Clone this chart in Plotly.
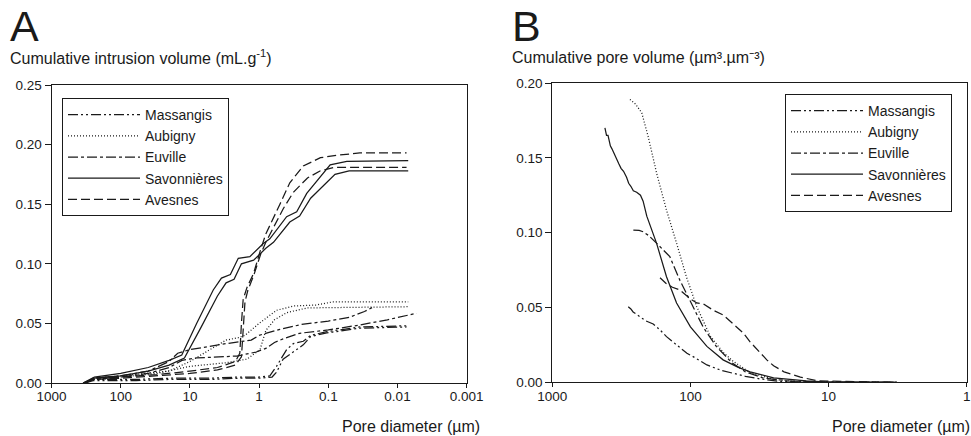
import plotly.graph_objects as go

# ---------------- Panel A : cumulative intrusion volume (mL/g) vs pore diameter (um)
massangis_a1_d = [330, 250, 150, 60, 20, 5, 2, 1.0, 0.7, 0.56, 0.40, 0.32, 0.23, 0.18, 0.105, 0.035, 0.0074]
massangis_a1_v = [0, 0.003, 0.003, 0.003, 0.004, 0.004, 0.005, 0.005, 0.006, 0.014, 0.028, 0.033, 0.035, 0.040, 0.043, 0.047, 0.048]
massangis_a2_d = [330, 250, 150, 60, 20, 5, 2, 1.0, 0.65, 0.56, 0.45, 0.32, 0.23, 0.18, 0.105, 0.035, 0.0074]
massangis_a2_v = [0, 0.002, 0.002, 0.002, 0.003, 0.003, 0.004, 0.004, 0.005, 0.009, 0.020, 0.026, 0.032, 0.039, 0.042, 0.046, 0.047]

aubigny_a1_d = [320, 250, 100, 40, 20, 10, 5, 3, 2, 1.6, 1.0, 0.56, 0.32, 0.15, 0.087, 0.007]
aubigny_a1_v = [0, 0.004, 0.006, 0.008, 0.010, 0.018, 0.028, 0.036, 0.038, 0.040, 0.050, 0.061, 0.0646, 0.0654, 0.068, 0.068]
aubigny_a2_d = [320, 250, 100, 30, 10, 3, 1.5, 1.05, 0.97, 0.8, 0.6, 0.4, 0.2, 0.007]
aubigny_a2_v = [0, 0.003, 0.005, 0.008, 0.014, 0.017, 0.020, 0.026, 0.028, 0.044, 0.053, 0.059, 0.063, 0.064]

euville_a1_d = [330, 250, 100, 40, 20, 15, 10, 5, 3, 1.3, 1.0, 0.5, 0.25, 0.1, 0.05, 0.03, 0.022]
euville_a1_v = [0, 0.004, 0.006, 0.010, 0.018, 0.025, 0.028, 0.031, 0.033, 0.036, 0.040, 0.045, 0.049, 0.052, 0.055, 0.060, 0.064]
euville_a2_d = [330, 250, 100, 40, 20, 13, 8, 3, 2.1, 1.1, 0.8, 0.6, 0.45, 0.26, 0.1, 0.035, 0.014, 0.0053]
euville_a2_v = [0, 0.003, 0.005, 0.008, 0.013, 0.019, 0.021, 0.022, 0.0226, 0.026, 0.029, 0.034, 0.037, 0.0417, 0.0445, 0.0487, 0.053, 0.0585]

savonnieres_a1_d = [350, 240, 100, 40, 20, 13.1, 8.0, 4.6, 3.5, 2.6, 2.0, 1.36, 0.87, 0.70, 0.40, 0.286, 0.205, 0.094, 0.054, 0.0070]
savonnieres_a1_v = [0, 0.005, 0.008, 0.013, 0.019, 0.0235, 0.050, 0.078, 0.088, 0.091, 0.1046, 0.106, 0.117, 0.121, 0.1395, 0.1437, 0.159, 0.183, 0.186, 0.1866]
savonnieres_a2_d = [350, 240, 100, 40, 20, 12, 7, 4.0, 3.0, 2.3, 1.8, 1.2, 0.80, 0.62, 0.36, 0.26, 0.18, 0.08, 0.05, 0.0070]
savonnieres_a2_v = [0, 0.004, 0.006, 0.010, 0.015, 0.021, 0.046, 0.073, 0.084, 0.087, 0.100, 0.103, 0.113, 0.118, 0.135, 0.140, 0.155, 0.175, 0.178, 0.178]

avesnes_a1_d = [330, 250, 100, 30, 10, 4, 2.2, 1.9, 1.8, 1.7, 1.5, 1.2, 0.95, 0.8, 0.5, 0.36, 0.23, 0.13, 0.076, 0.035, 0.0074]
avesnes_a1_v = [0, 0.004, 0.005, 0.007, 0.010, 0.013, 0.018, 0.025, 0.050, 0.070, 0.080, 0.092, 0.112, 0.125, 0.150, 0.168, 0.182, 0.189, 0.191, 0.193, 0.193]
avesnes_a2_d = [330, 250, 100, 30, 10, 4, 2.2, 1.8, 1.7, 1.6, 1.45, 1.2, 0.95, 0.8, 0.6, 0.45, 0.32, 0.2, 0.13, 0.08, 0.0074]
avesnes_a2_v = [0, 0.003, 0.004, 0.006, 0.008, 0.011, 0.015, 0.022, 0.045, 0.068, 0.078, 0.090, 0.108, 0.118, 0.132, 0.146, 0.160, 0.172, 0.178, 0.181, 0.181]

# ---------------- Panel B : cumulative pore volume (um3/um3) vs pore diameter (um)
massangis_b_d = [282, 270, 260, 232, 210, 186, 166, 149, 126, 106, 95, 76, 60, 49, 40, 31, 22, 3.2]
massangis_b_v = [0.0505, 0.049, 0.047, 0.0438, 0.041, 0.039, 0.035, 0.0305, 0.025, 0.0194, 0.017, 0.0116, 0.008, 0.006, 0.004, 0.0022, 0.0004, 0]
aubigny_b_d = [274, 250, 225, 202, 176, 149, 126, 107, 90, 72, 58, 49, 37, 25, 16, 10, 3.2]
aubigny_b_v = [0.189, 0.186, 0.180, 0.164, 0.140, 0.115, 0.093, 0.0705, 0.0505, 0.031, 0.020, 0.014, 0.0065, 0.002, 0.0003, 0.0001, 0]
euville_b_d = [259, 235, 220, 200, 176, 141, 119, 101, 81, 65, 50, 40, 30, 20, 12, 3.2]
euville_b_v = [0.1017, 0.1015, 0.1006, 0.098, 0.093, 0.084, 0.068, 0.055, 0.037, 0.024, 0.013, 0.007, 0.003, 0.001, 0.0002, 0]
savonnieres_b_d = [416, 405, 395, 380, 370, 355, 345, 330, 318, 305, 290, 280, 270, 259, 245, 230, 220, 207,
                   176, 149, 126, 100, 76, 58, 45, 37, 25, 14.5, 10, 3.2]
savonnieres_b_v = [0.170, 0.165, 0.165, 0.158, 0.156, 0.152, 0.150, 0.146, 0.143, 0.141, 0.137, 0.133, 0.131, 0.128, 0.127, 0.125, 0.121, 0.111,
                   0.093, 0.0705, 0.053, 0.037, 0.024, 0.015, 0.010, 0.007, 0.003, 0.001, 0.0002, 0]
avesnes_b_d = [166, 150, 135, 119, 101, 90, 81, 68, 58, 49, 41.5, 37, 33, 28, 25, 21, 16, 12, 3.2]
avesnes_b_v = [0.0699, 0.066, 0.0635, 0.0617, 0.056, 0.053, 0.0525, 0.048, 0.045, 0.039, 0.033, 0.027, 0.022, 0.015, 0.011, 0.007, 0.0035, 0.0009, 0]

x_tickvals_a = [1000, 100, 10, 1, 0.1, 0.01, 0.001]
x_ticktext_a = ["1000", "100", "10", "1", "0.1", "0.01", "0.001"]
x_tickvals_b = [1000, 100, 10, 1]
x_ticktext_b = ["1000", "100", "10", "1"]
y_ticks_a = [0, 0.05, 0.10, 0.15, 0.20, 0.25]
y_ticks_b = [0, 0.05, 0.10, 0.15, 0.20]

names = ["Massangis", "Aubigny", "Euville", "Savonnières", "Avesnes"]
dashes = {
    "Massangis": "10px,3px,2px,3px,2px,3px",
    "Aubigny": "1px,2px",
    "Euville": "10px,3px,3px,3px",
    "Savonnières": "solid",
    "Avesnes": "9px,4px",
}

a_series = {
    "Massangis": [(massangis_a1_d, massangis_a1_v), (massangis_a2_d, massangis_a2_v)],
    "Aubigny": [(aubigny_a1_d, aubigny_a1_v), (aubigny_a2_d, aubigny_a2_v)],
    "Euville": [(euville_a1_d, euville_a1_v), (euville_a2_d, euville_a2_v)],
    "Savonnières": [(savonnieres_a1_d, savonnieres_a1_v), (savonnieres_a2_d, savonnieres_a2_v)],
    "Avesnes": [(avesnes_a1_d, avesnes_a1_v), (avesnes_a2_d, avesnes_a2_v)],
}
b_series = {
    "Massangis": (massangis_b_d, massangis_b_v),
    "Aubigny": (aubigny_b_d, aubigny_b_v),
    "Euville": (euville_b_d, euville_b_v),
    "Savonnières": (savonnieres_b_d, savonnieres_b_v),
    "Avesnes": (avesnes_b_d, avesnes_b_v),
}

INK = "#1a1a1a"
FONT = "Liberation Sans, Arial, sans-serif"

fig = go.Figure()
for n in names:
    for i, (d, v) in enumerate(a_series[n]):
        fig.add_trace(go.Scatter(
            x=d, y=v, mode="lines", name=n, xaxis="x", yaxis="y",
            line=dict(color=INK, width=1.25, dash=dashes[n]),
            showlegend=(i == 0), legend="legend", hoverinfo="skip"))
for n in names:
    d, v = b_series[n]
    fig.add_trace(go.Scatter(
        x=d, y=v, mode="lines", name=n, xaxis="x2", yaxis="y2",
        line=dict(color=INK, width=1.25, dash=dashes[n]),
        showlegend=True, legend="legend2", hoverinfo="skip"))

W, H = 971, 436
def px(x):
    return x / W
def py(y):
    return 1 - y / H

axis_common = dict(showline=True, linecolor=INK, linewidth=1, mirror=True,
                   ticks="outside", tickcolor=INK, showgrid=False, zeroline=False,
                   automargin=False,
                   tickfont=dict(family=FONT, size=13.5, color=INK))
xaxis_extra = dict(ticklen=4, ticklabelstandoff=-3)

legend_common = dict(xanchor="left", yanchor="top", bgcolor="white", bordercolor=INK,
                     borderwidth=1, font=dict(family=FONT, size=14, color=INK),
                     itemwidth=72, tracegroupgap=0)

TITLE_SIZE = 16

fig.update_layout(
    width=W, height=H, margin=dict(l=0, r=0, t=0, b=0, pad=0, autoexpand=False),
    paper_bgcolor="white", plot_bgcolor="white",
    font=dict(family=FONT, color=INK),
    xaxis=dict(type="log", range=[3, -3], domain=[px(51.5), px(466.7)], anchor="y",
               tickvals=x_tickvals_a, ticktext=x_ticktext_a, **xaxis_extra, **axis_common),
    yaxis=dict(range=[0, 0.25], domain=[py(383), py(85)], anchor="x",
               tickvals=y_ticks_a, tickformat=".2f", ticklen=6, **axis_common),
    xaxis2=dict(type="log", range=[3, 0], domain=[px(552.3), px(966.7)], anchor="y2",
                tickvals=x_tickvals_b, ticktext=x_ticktext_b, **xaxis_extra, **axis_common),
    yaxis2=dict(range=[0, 0.20], domain=[py(382.3), py(83)], anchor="x2",
                tickvals=y_ticks_b, tickformat=".2f", ticklen=6, **axis_common),
    legend=dict(x=px(62), y=py(98), **legend_common),
    legend2=dict(x=px(785), y=py(94), **legend_common),
    annotations=[
        dict(text="A", x=px(8), y=py(25.5), xref="paper", yref="paper",
             xanchor="left", yanchor="middle", showarrow=False,
             font=dict(family=FONT, size=43, color=INK)),
        dict(text="B", x=px(510), y=py(25.5), xref="paper", yref="paper",
             xanchor="left", yanchor="middle", showarrow=False,
             font=dict(family=FONT, size=43, color=INK)),
        dict(text="Cumulative intrusion volume (mL.g<sup>-1</sup>)", x=px(8), y=py(57),
             xref="paper", yref="paper", xanchor="left", yanchor="middle", showarrow=False,
             font=dict(family=FONT, size=TITLE_SIZE, color=INK)),
        dict(text="Cumulative pore volume (µm³.µm⁻³)", x=px(510), y=py(57),
             xref="paper", yref="paper", xanchor="left", yanchor="middle", showarrow=False,
             font=dict(family=FONT, size=TITLE_SIZE, color=INK)),
        dict(text="Pore diameter (µm)", x=px(482), y=py(426), xref="paper", yref="paper",
             xanchor="right", yanchor="middle", showarrow=False,
             font=dict(family=FONT, size=TITLE_SIZE, color=INK)),
        dict(text="Pore diameter (µm)", x=px(972), y=py(426), xref="paper", yref="paper",
             xanchor="right", yanchor="middle", showarrow=False,
             font=dict(family=FONT, size=TITLE_SIZE, color=INK)),
    ],
)

fig.write_html(
    "out.html",
    config={"displayModeBar": False},
    post_script="document.body.style.margin='0';document.body.style.padding='0';"
                "document.body.style.overflow='hidden';",
)
